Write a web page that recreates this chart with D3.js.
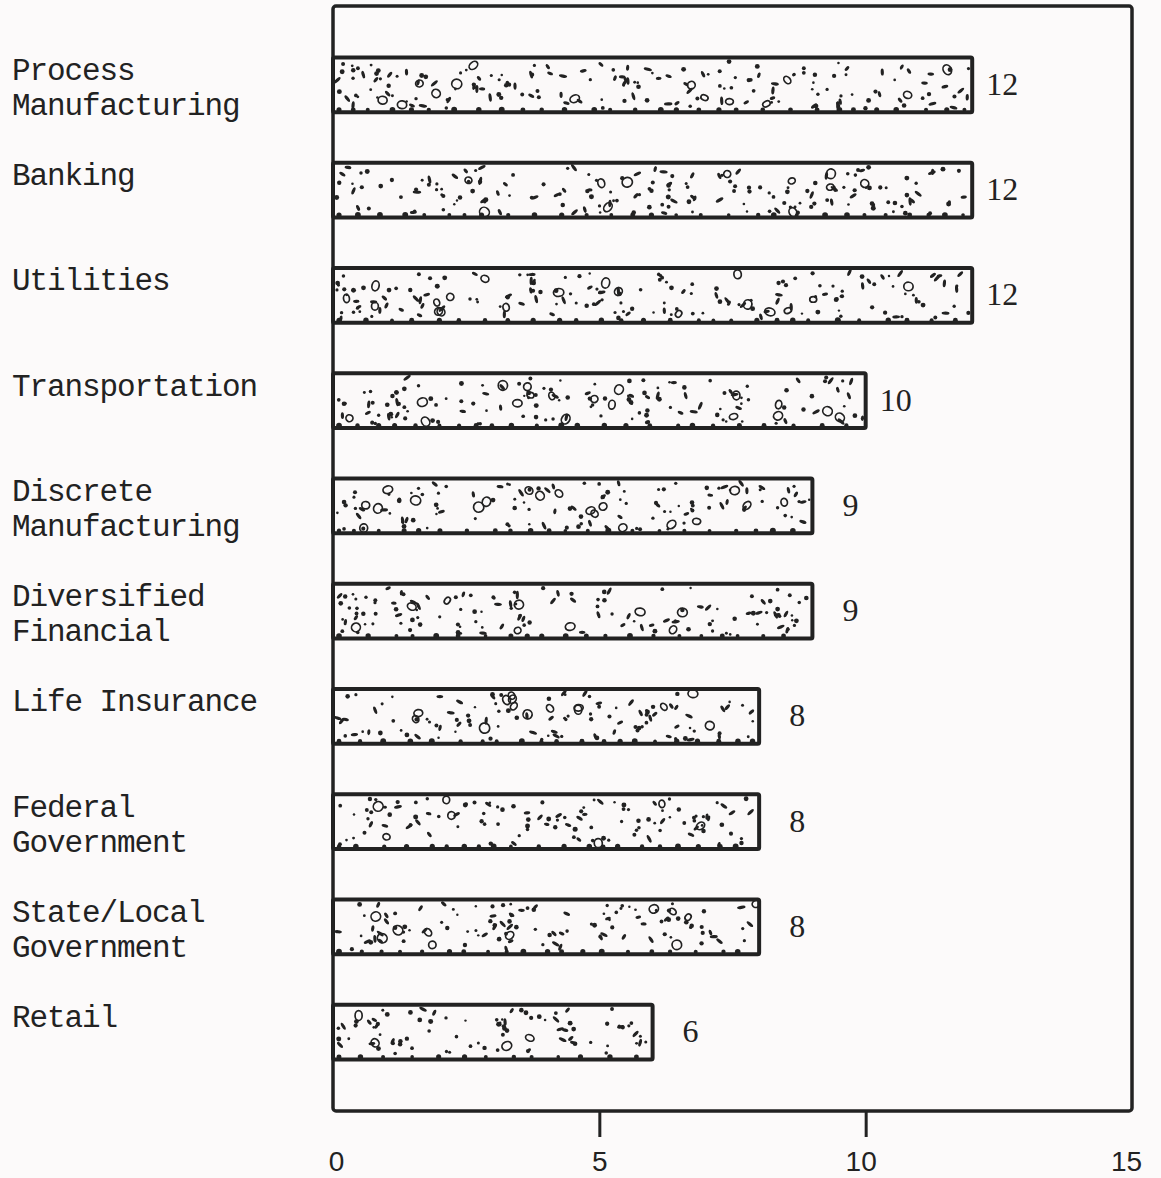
<!DOCTYPE html>
<html>
<head>
<meta charset="utf-8">
<script src="https://cdn.jsdelivr.net/npm/d3@7"></script>
<style>
  html, body { margin: 0; padding: 0; background: #fcfafa; }
  svg { display: block; }
</style>
</head>
<body>
<svg id="chart" width="1161" height="1178"></svg>
<script>
// Industry categories (line breaks as typed on the label)
const categories = [
  "Process\nManufacturing",
  "Banking",
  "Utilities",
  "Transportation",
  "Discrete\nManufacturing",
  "Diversified\nFinancial",
  "Life Insurance",
  "Federal\nGovernment",
  "State/Local\nGovernment",
  "Retail"
];
// Count per industry
const values = [12, 12, 12, 10, 9, 9, 8, 8, 8, 6];
// Axis tick values
const xTicks = [0, 5, 10, 15];

const ink = "#222";
const svg = d3.select("#chart");

const plot = { left: 333, right: 1132, top: 6, bottom: 1111 };

const x = d3.scaleLinear().domain([0, 15]).range([plot.left, plot.right]);
const y = d3.scaleBand()
  .domain(categories)
  .range([plot.top, plot.bottom])
  .paddingInner(0.48)
  .paddingOuter(0.49);

// Seeded generator for the stipple texture so the fill is stable between renders
function mulberry32(a) {
  return function() {
    a |= 0; a = a + 0x6D2B79F5 | 0;
    let t = Math.imul(a ^ a >>> 15, 1 | a);
    t = t + Math.imul(t ^ t >>> 7, 61 | t) ^ t;
    return ((t ^ t >>> 14) >>> 0) / 4294967296;
  };
}
const rand = mulberry32(1987);

const defs = svg.append("defs");

// Bars
const bars = svg.append("g").attr("class", "bars");
categories.forEach((c, i) => {
  const x0 = x(0), x1 = x(values[i]);
  const y0 = y(c), h = y.bandwidth();
  const clipId = "clip" + i;
  defs.append("clipPath").attr("id", clipId)
    .append("rect").attr("x", x0).attr("y", y0).attr("width", x1 - x0).attr("height", h);

  const g = bars.append("g");
  g.append("rect")
    .attr("x", x0).attr("y", y0)
    .attr("width", x1 - x0).attr("height", h)
    .attr("fill", "#fbf9f9");

  // stipple: dots, short dashes, and small hollow pebbles
  const tex = g.append("g").attr("clip-path", `url(#${clipId})`);
  const area = (x1 - x0) * h;
  const nDots = Math.round(area / 200);
  for (let k = 0; k < nDots; k++) {
    const px = x0 + 3 + rand() * (x1 - x0 - 6);
    const py = y0 + 4 + rand() * (h - 8);
    const kind = rand();
    if (kind < 0.1) {
      const r = 3.4 + rand() * 1.8;
      tex.append("ellipse")
        .attr("cx", px).attr("cy", py)
        .attr("rx", r * (0.7 + rand() * 0.3)).attr("ry", r)
        .attr("transform", `rotate(${rand() * 180},${px},${py})`)
        .attr("fill", "none").attr("stroke", ink).attr("stroke-width", 1.7);
    } else if (kind < 0.4) {
      tex.append("ellipse")
        .attr("cx", px).attr("cy", py)
        .attr("rx", 2.8 + rand() * 1.5).attr("ry", 1.6)
        .attr("transform", `rotate(${rand() * 180},${px},${py})`)
        .attr("fill", ink);
    } else {
      tex.append("circle")
        .attr("cx", px).attr("cy", py)
        .attr("r", 1.2 + rand() * 1.3)
        .attr("fill", ink);
    }
  }
  // slightly ragged lower edge
  for (let px = x0 + 6; px < x1 - 4; px += 14 + rand() * 16) {
    tex.append("circle").attr("cx", px).attr("cy", y0 + h - 2.5).attr("r", 1.8 + rand() * 1.2).attr("fill", ink);
  }

  g.append("rect")
    .attr("x", x0).attr("y", y0)
    .attr("width", x1 - x0).attr("height", h)
    .attr("fill", "none")
    .attr("stroke", ink).attr("stroke-width", 4)
    .attr("rx", 1.5);
});

// Frame
svg.append("rect")
  .attr("x", plot.left).attr("y", plot.top)
  .attr("width", plot.right - plot.left).attr("height", plot.bottom - plot.top)
  .attr("fill", "none").attr("stroke", ink).attr("stroke-width", 3.5)
  .attr("rx", 3);

// Bottom axis: ticks hang below the frame
const axis = d3.axisBottom(x).tickValues(xTicks).tickSize(26).tickPadding(14).tickFormat(d3.format("d"));
const ax = svg.append("g").attr("transform", `translate(0,${plot.bottom})`).call(axis);
ax.select(".domain").remove();
ax.selectAll(".tick line")
  .attr("stroke", ink).attr("stroke-width", 3)
  .attr("display", d => (d === 0 || d === 15) ? "none" : null);
ax.selectAll(".tick text")
  .attr("fill", ink)
  .attr("font-family", "'Liberation Sans', Arial, sans-serif")
  .attr("font-size", 28)
  .attr("dx", d => d === 0 ? 3 : (d === 15 ? -6 : (d === 10 ? -5 : 0)));

// Category labels in typewriter face
const labels = svg.append("g")
  .attr("font-family", "'Liberation Mono', 'Courier New', monospace")
  .attr("font-size", 31)
  .attr("letter-spacing", -1.1)
  .attr("fill", ink);
categories.forEach(c => {
  const t = labels.append("text")
    .attr("x", 12)
    .attr("y", y(c) + y.bandwidth() / 2 - 5);
  c.split("\n").forEach((line, j) => {
    t.append("tspan").attr("x", 12).attr("dy", j === 0 ? 0 : 35).text(line);
  });
});

// Value labels to the right of each bar
svg.append("g")
  .attr("font-family", "'Liberation Serif', 'Times New Roman', serif")
  .attr("font-size", 32)
  .attr("fill", ink)
  .attr("text-anchor", "end")
  .selectAll("text")
  .data(categories)
  .join("text")
  .attr("x", (c, i) => x(values[i]) + 46)
  .attr("y", c => y(c) + y.bandwidth() / 2 + 10)
  .text((c, i) => values[i]);
</script>
</body>
</html>
